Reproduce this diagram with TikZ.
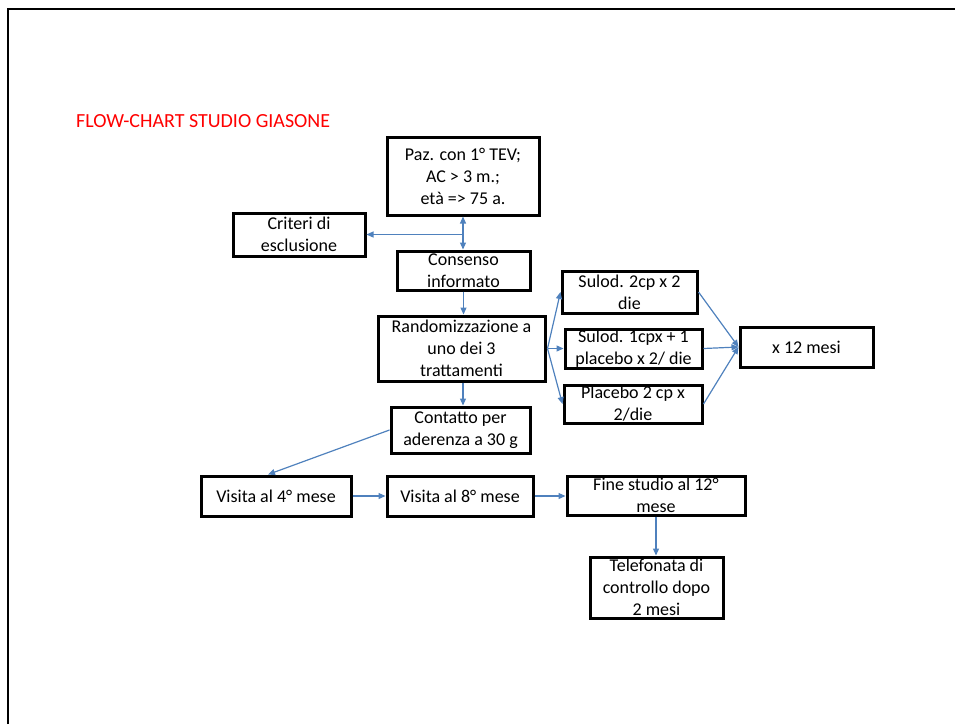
\documentclass[tikz,border=0pt]{standalone}
\usepackage{fontspec}
\setmainfont{Carlito}
\usepackage{tikz}
\usetikzlibrary{positioning,arrows.meta,calc}
\definecolor{connblue}{HTML}{4F81BD}
\tikzset{
  fcbox/.style={draw=black,line width=3pt,rectangle,inner sep=0pt,align=center,
    font=\fontsize{18}{22}\selectfont},
  conn/.style={-{Triangle[length=7pt,width=6pt]},line width=1.2pt,draw=connblue},
  bconn/.style={{Triangle[length=7pt,width=6pt]}-{Triangle[length=7pt,width=6pt]},
    line width=1.2pt,draw=connblue},
  ttl/.style={text=red,font=\fontsize{20}{24}\selectfont,inner sep=0pt},
  frm/.style={line width=2.8pt,black},
}

\begin{document}
\begin{tikzpicture}[x=1pt,y=-1pt]
  \useasboundingbox (0,0) rectangle (955,724);
  % page frame (only top and left edges show)
  \draw[frm] (8,724)--(8,9)--(955,9);
  \node[ttl,anchor=base west] (title) at (76,127) {FLOW-CHART STUDIO GIASONE};
  % main column
  \node[fcbox,minimum width=152,minimum height=78] (paz) at (463,176)
    {Paz. con 1° TEV;\\AC > 3 m.;\\età => 75 a.};
  \node[fcbox,minimum width=132,minimum height=43] (crit) at (299,234.5)
    {Criteri di\\esclusione};
  \node[fcbox,minimum width=133,minimum height=39] (cons) at (463.5,270.5)
    {Consenso\\informato};
  \node[fcbox,minimum width=167,minimum height=65] (rand) at (461.5,348.5)
    {Randomizzazione a\\uno dei 3\\trattamenti};
  \node[fcbox,minimum width=139,minimum height=46] (cont) at (460.5,430)
    {Contatto per\\aderenza a 30 g};
  % treatment arms
  \node[fcbox,minimum width=135,minimum height=42] (sul2) at (629.5,292)
    {Sulod. 2cp x 2\\die};
  \node[fcbox,minimum width=137,minimum height=39] (sul1) at (633.5,348.5)
    {Sulod. 1cpx + 1\\placebo x 2/ die};
  \node[fcbox,minimum width=138,minimum height=38] (plac) at (633,404)
    {Placebo 2 cp x\\2/die};
  \node[fcbox,minimum width=133,minimum height=40] (mesi) at (806.5,347)
    {x 12 mesi};
  % follow-up row
  \node[fcbox,minimum width=150,minimum height=40] (vis4) at (276,496)
    {Visita al 4° mese};
  \node[fcbox,minimum width=146,minimum height=40] (vis8) at (460,496)
    {Visita al 8° mese};
  \node[fcbox,minimum width=178,minimum height=39] (fine) at (656,495.5)
    {Fine studio al 12°\\mese};
  \node[fcbox,minimum width=133,minimum height=61] (tel) at (656.5,587.5)
    {Telefonata di\\controllo dopo\\2 mesi};
  % connectors
  \draw[bconn] (paz.south)--(paz.south |- cons.north);
  \draw[conn] (paz.south |- crit.east)--(crit.east);
  \draw[conn] (cons.south)--(cons.south |- rand.north);
  \draw[conn] ([xshift=1.5pt]rand.south)--([xshift=1.5pt]rand.south |- cont.north);
  \foreach \t in {sul2,sul1,plac}{
    \draw[conn] ([xshift=1pt]rand.east)--(\t.west);
    \draw[conn] (\t.east)--(mesi.west);
  }
  \draw[conn] (cont.west)--([xshift=-8pt]vis4.north);
  \draw[conn] (vis4.east)--(vis8.west);
  \draw[conn] (vis8.east)--(vis8.east -| fine.west);
  \draw[conn] (fine.south)--(fine.south |- tel.north);
\end{tikzpicture}
\end{document}
